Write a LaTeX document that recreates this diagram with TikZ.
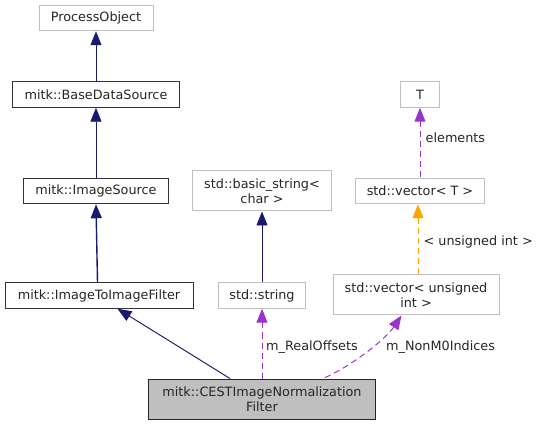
\documentclass[tikz,border=0pt]{standalone}
\usepackage{fontspec}
\setmainfont{DejaVu Sans}
\usetikzlibrary{arrows.meta}
\definecolor{dxblue}{HTML}{191970}
\definecolor{dxgray}{HTML}{BFBFBF}
\definecolor{dxpurple}{HTML}{9A32CD}
\definecolor{dxorange}{HTML}{FFA500}
\tikzset{
  every node/.style={font=\fontsize{12.8}{14.5}\selectfont, text=black!85},
  extbox/.style={draw=dxgray, line width=1pt, inner sep=0pt, align=center, fill=white},
  docbox/.style={draw=black!80, line width=1pt, inner sep=0pt, align=center, fill=white},
  curbox/.style={draw=black!85, line width=1pt, inner sep=0pt, align=center, fill=dxgray},
  inh/.style={draw=dxblue, line width=0.95pt, {Triangle[length=14pt,width=11pt,fill=dxblue]}-},
  usage/.style={draw=dxpurple, line width=1pt, dash pattern=on 6pt off 4pt, {Triangle[length=14pt,width=11pt,fill=dxpurple]}-},
  templ/.style={draw=dxorange, line width=1pt, dash pattern=on 6pt off 4pt, {Triangle[length=14pt,width=11pt,fill=dxorange]}-},
  elabel/.style={anchor=west, inner sep=0pt}
}
\begin{document}
\begin{tikzpicture}[x=1pt,y=-1pt]
\useasboundingbox (0,0) rectangle (539,425);
% nodes
\node[extbox, minimum width=114pt, minimum height=25.5pt] (po) at (96,18) {ProcessObject};
\node[docbox, minimum width=167.5pt, minimum height=25.5pt] (bds) at (96,94.5) {mitk::BaseDataSource};
\node[docbox, minimum width=145.5pt, minimum height=25.5pt] (is) at (96,191) {mitk::ImageSource};
\node[docbox, minimum width=188pt, minimum height=25.5pt] (i2i) at (99,295.5) {mitk::ImageToImageFilter};
\node[curbox, minimum width=227pt, minimum height=40pt] (cest) at (262,399) {mitk::CESTImageNormalization\\Filter};
\node[extbox, minimum width=87pt, minimum height=25.5pt] (str) at (262,295.5) {std::string};
\node[extbox, minimum width=139pt, minimum height=40pt] (bstr) at (262,191) {std::basic\_string<\\char >};
\node[extbox, minimum width=166pt, minimum height=40pt] (vecu) at (416,295) {std::vector< unsigned\\int >};
\node[extbox, minimum width=129.5pt, minimum height=25.5pt] (vecT) at (420,191) {std::vector< T >};
\node[extbox, minimum width=39.5pt, minimum height=25.5pt] (T) at (420,94.5) {T};
% edges
\draw[inh] (po.south) -- (bds.north);
\draw[inh] (bds.south) -- (is.north);
\draw[inh, line width=1.4pt] (is.south) -- ([xshift=93pt]i2i.north west);
\draw[inh] ([xshift=113pt]i2i.south west) -- ([xshift=82pt]cest.north west);
\draw[inh] (bstr.south) -- (str.north);
\draw[usage] (str.south) -- (str.south |- cest.north);
\draw[usage] ([xshift=69pt]vecu.south west) .. controls (385,340) and (350,367) .. ([xshift=175pt]cest.north west);
\draw[templ] ([xshift=-2pt]vecT.south) -- ([xshift=2pt]vecu.north);
\draw[usage] (T.south) -- (vecT.north);
% labels
\node[elabel] (l1) at (425.5,138) {elements};
\node[elabel] (l2) at (423.5,242) {< unsigned int >};
\node[elabel] (l3) at (266,347) {m\_RealOffsets};
\node[elabel] (l4) at (386,347) {m\_NonM0Indices};
\end{tikzpicture}
\end{document}
